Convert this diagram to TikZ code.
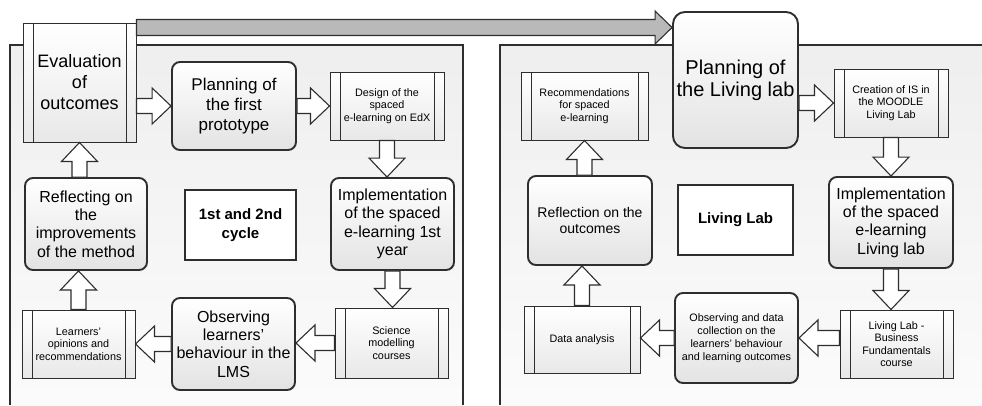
\documentclass[tikz,border=0pt]{standalone}
\usepackage{fontspec}
\setmainfont{Liberation Sans}
\usetikzlibrary{calc}
\definecolor{lc}{HTML}{2E2E2E}
\tikzset{
  blockarrow/.style n args={3}{draw=lc, line width=1.1pt, line join=miter,
    to path={let \p1=(\tikztostart), \p2=(\tikztotarget),
      \n1={veclen(\x2-\x1,\y2-\y1)}, \n2={(\x2-\x1)/\n1}, \n3={(\y2-\y1)/\n1} in
      ({\x1-\n3*#1},{\y1+\n2*#1}) -- ({\x2-\n2*#3-\n3*#1},{\y2-\n3*#3+\n2*#1})
      -- ({\x2-\n2*#3-\n3*#2},{\y2-\n3*#3+\n2*#2}) -- (\x2,\y2)
      -- ({\x2-\n2*#3+\n3*#2},{\y2-\n3*#3-\n2*#2}) -- ({\x2-\n2*#3+\n3*#1},{\y2-\n3*#3-\n2*#1})
      -- ({\x1+\n3*#1},{\y1-\n2*#1}) -- cycle}},
  barrow/.style={blockarrow={7.5pt}{18pt}{19pt}, fill=white},
  bigarrow/.style={blockarrow={8pt}{16.5pt}{17pt}, fill=gray!55},
  predef/.style={draw=lc, line width=1pt, top color=white, bottom color=gray!18,
    align=center, inner sep=1pt,
    path picture={\draw[lc, line width=1pt]
      ([xshift=10pt]path picture bounding box.north west) -- ([xshift=10pt]path picture bounding box.south west)
      ([xshift=-10pt]path picture bounding box.north east) -- ([xshift=-10pt]path picture bounding box.south east);}},
  rbox/.style={draw=lc, line width=1.9pt, rounded corners=8pt, top color=white,
    bottom color=gray!22, align=center, inner sep=1pt},
  tbox/.style={draw=lc, line width=2.5pt, fill=white, align=center, inner sep=1pt},
  big/.style={font=\fontsize{18}{21}\selectfont},
  mid/.style={font=\fontsize{16}{18.3}\selectfont},
  sml/.style={font=\fontsize{10.8}{12.5}\selectfont},
}
\begin{document}
\begin{tikzpicture}[x=1pt, y=-1pt]
\useasboundingbox (0,0) rectangle (982,405);
% panels
\fill[top color=gray!13, bottom color=gray!3] (10,45) rectangle (463,405);
\draw[lc, line width=1.8pt] (10,405) -- (10,45) -- (463,45) -- (463,405);
\fill[top color=gray!13, bottom color=gray!3] (500,45) rectangle (982,405);
\draw[lc, line width=1.8pt] (500,405) -- (500,45) -- (982,45);

% left cycle
\node[predef, big, minimum width=113pt, minimum height=119pt] (eval) at (79.5,82.5) {Evaluation\\of\\outcomes};
\node[rbox, font=\fontsize{17}{20}\selectfont, minimum width=124pt, minimum height=88pt] (plan1) at (234,106) {Planning of\\the first\\prototype};
\node[predef, sml, minimum width=114pt, minimum height=68pt] (design) at (387,106) {Design of the\\spaced\\e-learning on EdX};
\node[rbox, mid, minimum width=123pt, minimum height=92pt] (impl1) at (392.5,224) {Implementation\\of the spaced\\e-learning 1st\\year};
\node[predef, sml, minimum width=113pt, minimum height=70pt] (science) at (391.5,343) {Science\\modelling\\courses};
\node[rbox, mid, minimum width=123pt, minimum height=92pt] (obs1) at (233.5,344) {Observing\\learners'\\behaviour in the\\LMS};
\node[predef, sml, minimum width=113pt, minimum height=68pt] (learners) at (78.5,344) {Learners'\\opinions and\\recommendations};
\node[rbox, mid, minimum width=122pt, minimum height=92pt] (reflect1) at (86,224) {Reflecting on\\the\\improvements\\of the method};
\node[tbox, font=\fontsize{15}{18.3}\selectfont\bfseries, minimum width=111pt, minimum height=70pt] (cycle) at (240.5,225) {1st and 2nd\\cycle};

% right cycle
\node[predef, sml, minimum width=127pt, minimum height=68pt] (rec) at (584.5,106) {Recommendations\\for spaced\\e-learning};
\node[rbox, rounded corners=12pt, font=\fontsize{20}{22}\selectfont, minimum width=125pt, minimum height=136pt] (planLL) at (735.5,80) {Planning of\\the Living lab};
\node[predef, sml, minimum width=114pt, minimum height=68pt] (creation) at (891,103) {Creation of IS in\\the MOODLE\\Living Lab};
\node[rbox, mid, minimum width=124pt, minimum height=91pt] (implLL) at (891,222.5) {Implementation\\of the spaced\\e-learning\\Living lab};
\node[predef, sml, minimum width=113pt, minimum height=68pt] (course) at (896.5,344) {Living Lab -\\Business\\Fundamentals\\course};
\node[rbox, font=\fontsize{10.8}{13}\selectfont, minimum width=123pt, minimum height=90pt] (obsLL) at (736.5,338) {Observing and data\\collection on the\\learners' behaviour\\and learning outcomes};
\node[predef, sml, minimum width=116pt, minimum height=67pt] (data) at (582,339.5) {Data analysis};
\node[rbox, font=\fontsize{14}{16}\selectfont, minimum width=124pt, minimum height=89pt] (reflLL) at (590,220.5) {Reflection on the\\outcomes};
\node[tbox, font=\fontsize{15}{18}\selectfont\bfseries, minimum width=115pt, minimum height=70pt] (living) at (735.5,220) {Living Lab};

% big arrow
\coordinate (bigS) at ([yshift=-5pt]eval.north east);
\draw[bigarrow] (bigS) to (bigS -| planLL.west);

% left arrows
\draw[barrow] (eval.east |- plan1.west) to (plan1.west);
\draw[barrow] (plan1.east) to (design.west);
\draw[barrow] (design.south) to (design.south |- impl1.north);
\draw[barrow] (impl1.south) to (impl1.south |- science.north);
\draw[barrow] (science.west) to (science.west -| obs1.east);
\draw[barrow] (obs1.west) to (obs1.west -| learners.east);
\draw[barrow] (learners.north) to (learners.north |- reflect1.south);
\draw[barrow] (eval.south |- reflect1.north) to (eval.south);

% right arrows
\draw[barrow] (planLL.east |- creation.west) to (creation.west);
\draw[barrow] (creation.south) to (creation.south |- implLL.north);
\draw[barrow] (implLL.south) to (implLL.south |- course.north);
\draw[barrow] (course.west |- obsLL.east) to (obsLL.east);
\draw[barrow] (obsLL.west) to (obsLL.west -| data.east);
\draw[barrow] (data.north) to (data.north |- reflLL.south);
\draw[barrow] (rec.south |- reflLL.north) to (rec.south);
\end{tikzpicture}
\end{document}
